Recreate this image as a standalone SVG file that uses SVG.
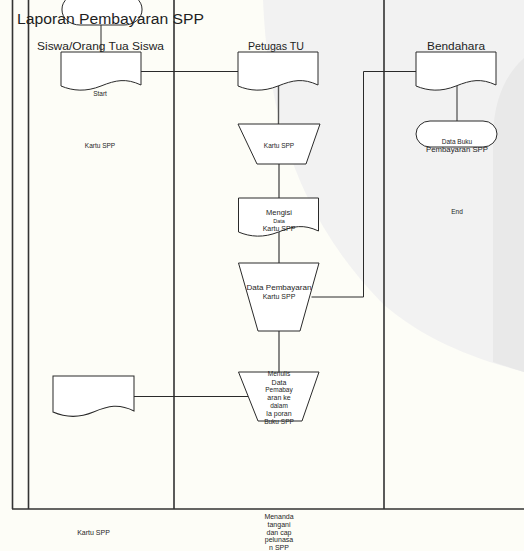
<svg xmlns="http://www.w3.org/2000/svg" xmlns:xlink="http://www.w3.org/1999/xlink" width="524" height="551" viewBox="0 0 524 551">
<style>
.lane{stroke:#333;stroke-width:1.6;fill:none}
.shape{fill:#fff;stroke:#2a2a2a;stroke-width:1}
.conn{fill:none;stroke:#2a2a2a;stroke-width:1}
.conn2{fill:none;stroke:#555;stroke-width:1.4}
text{font-family:"Liberation Sans","DejaVu Sans",sans-serif;fill:#1e1e1e;text-anchor:middle}
.hd{font-size:11px}
.sm{font-size:6.5px}
.md{font-size:7px}
</style>
<defs>
<path id="doc" d="M0,0 H80 V33 C65,26 55,28 40,34 C25,40 12,39 0,34 Z"/>
</defs>
<rect width="524" height="551" fill="#fdfdf7"/>
<path d="M263,0 C268,120 300,220 384,305 C420,335 460,355 524,372 L524,0 Z" fill="#f2f2f2"/>
<path d="M524,58 C505,75 494,100 493,135 L493,362 C505,366 514,369 524,372 Z" fill="#e9e9e9"/>

<g id="lanes">
<path class="lane" d="M12.5,0 V509 M28.5,0 V509 M174,0 V509 M384,0 V509 M12,509 H524"/>
</g>

<g id="connectors">
<path class="conn" d="M101,25 V52"/>
<path class="conn" d="M141,71.5 H238"/>
<path class="conn2" d="M278.5,86 V124"/>
<path class="conn2" d="M279,164 V198"/>
<path class="conn2" d="M279,232 V263"/>
<path class="conn" d="M311.5,297 H363.5 V71.5 H416"/>
<path class="conn2" d="M279,331 V372"/>
<path class="conn" d="M134,396.5 H248"/>
<path class="conn" d="M457,86 V121"/>
</g>

<g id="n-top">
<rect class="shape" x="62" y="-6" width="80" height="31" rx="18" ry="15"/>
</g>

<text x="17" y="24" style="font-size:14px;text-anchor:start" textLength="187" lengthAdjust="spacingAndGlyphs">Laporan Pembayaran SPP</text>
<text class="hd" x="100.5" y="49.5" textLength="127" lengthAdjust="spacingAndGlyphs">Siswa/Orang Tua Siswa</text>
<text class="hd" x="276" y="49.5" textLength="56" lengthAdjust="spacingAndGlyphs">Petugas TU</text>
<text class="hd" x="456" y="49.5" textLength="58" lengthAdjust="spacingAndGlyphs">Bendahara</text>

<g id="n-siswa-doc">
<use xlink:href="#doc" class="shape" transform="translate(61,52)"/>
<text class="sm" x="100" y="95.5">Start</text>
</g>
<text class="sm" x="100" y="147.5">Kartu SPP</text>

<g id="n-petugas-doc">
<use xlink:href="#doc" class="shape" transform="translate(238,52)"/>
</g>

<g id="n-kartu">
<path class="shape" d="M238,124 H320 L306,164 H257 Z"/>
<text class="sm" x="279" y="148">Kartu SPP</text>
</g>

<g id="n-mengisi">
<use xlink:href="#doc" class="shape" transform="translate(238.5,198)"/>
<text class="md" x="279" y="214.5" style="font-size:7.5px">Mengisi</text>
<text x="279" y="223" style="font-size:5.5px">Data</text>
<text class="md" x="279" y="230.5">Kartu SPP</text>
</g>

<g id="n-datapembayaran">
<path class="shape" d="M238.5,263 H319 L300,331 H258 Z"/>
<text class="md" x="279" y="289.5" textLength="65" lengthAdjust="spacingAndGlyphs">Data Pembayaran</text>
<text class="md" x="279" y="298.5">Kartu SPP</text>
</g>

<g id="n-menulis">
<path class="shape" d="M238.5,372 H319 L302,421 H258 Z"/>
<text class="sm" x="279" y="375.5">Menulis</text>
<text class="md" x="279" y="384.5">Data</text>
<text class="sm" x="279" y="391.5">Pemabay</text>
<text class="md" x="279" y="399.5">aran ke</text>
<text class="sm" x="279" y="407.5">dalam</text>
<text class="md" x="279" y="415.5">la poran</text>
<text class="sm" x="279" y="424">Buku SPP</text>
</g>

<g id="n-left-doc">
<use xlink:href="#doc" class="shape" transform="translate(53,376) scale(1.0125,1.06)"/>
</g>

<g id="n-bendahara-doc">
<use xlink:href="#doc" class="shape" transform="translate(416,52)"/>
</g>

<g id="n-databuku">
<rect class="shape" x="416" y="121" width="81" height="26" rx="14" ry="13"/>
<text class="sm" x="457" y="143.5">Data Buku</text>
<text class="sm" x="457" y="151.5" textLength="62" lengthAdjust="spacingAndGlyphs">Pembayaran SPP</text>
</g>

<text class="sm" x="457" y="214">End</text>

<text class="md" x="93.5" y="534.5">Kartu SPP</text>
<g id="n-menandatangani">
<text class="md" x="279" y="518.5">Menanda</text>
<text class="md" x="279" y="526.5">tangani</text>
<text class="md" x="279" y="534.5">dan cap</text>
<text class="md" x="279" y="542">pelunasa</text>
<text class="md" x="279" y="549.5">n SPP</text>
</g>
</svg>
